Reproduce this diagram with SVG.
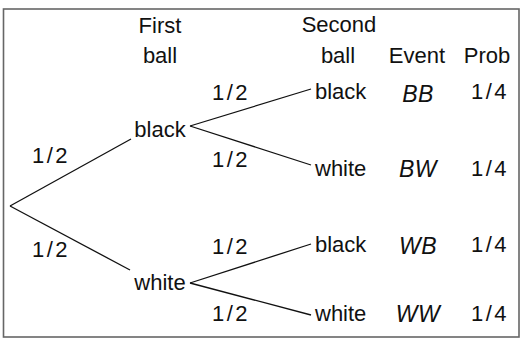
<svg xmlns="http://www.w3.org/2000/svg" width="523" height="349" viewBox="0 0 523 349">
  <style>
    text { font-family: "Liberation Sans", Arial, sans-serif; font-size: 22px; fill: #111; }
    .c { text-anchor: middle; }
    .it { font-style: italic; font-size: 23px; letter-spacing: 0.5px; }
    .fr { letter-spacing: 2.5px; }
    .edge { stroke: #111; stroke-width: 1.3; fill: none; }
  </style>
  <rect x="0" y="0" width="523" height="349" fill="#fff"/>
  <rect x="3.5" y="9" width="515.5" height="328" fill="none" stroke="#666" stroke-width="1.6"/>

  <!-- column headings -->
  <g id="headings">
    <text class="c" x="160" y="33">First</text>
    <text class="c" x="160" y="63">ball</text>
    <text class="c" x="339" y="32">Second</text>
    <text class="c" x="338" y="63">ball</text>
    <text class="c" x="417" y="63">Event</text>
    <text class="c" x="487" y="63">Prob</text>
  </g>

  <!-- branches -->
  <g id="connectors">
    <line class="edge" x1="10" y1="206" x2="131" y2="139"/>
    <line class="edge" x1="10" y1="206" x2="130" y2="270"/>
    <line class="edge" x1="190" y1="126" x2="311" y2="89"/>
    <line class="edge" x1="190" y1="126" x2="311" y2="165"/>
    <line class="edge" x1="190" y1="283" x2="311" y2="244"/>
    <line class="edge" x1="190" y1="283" x2="311" y2="315"/>
    <text class="c fr" x="51" y="163">1/2</text>
    <text class="c fr" x="51" y="257">1/2</text>
    <text class="c fr" x="231" y="100">1/2</text>
    <text class="c fr" x="231" y="167">1/2</text>
    <text class="c fr" x="231" y="254">1/2</text>
    <text class="c fr" x="231" y="321">1/2</text>
  </g>

  <!-- first draw -->
  <g id="first-black"><text class="c" x="160" y="137">black</text></g>
  <g id="first-white"><text class="c" x="160" y="290">white</text></g>

  <!-- second draw outcomes -->
  <g id="bb">
    <text x="315" y="99">black</text>
    <text class="c it" x="418" y="102">BB</text>
    <text class="c fr" x="490" y="99">1/4</text>
  </g>
  <g id="bw">
    <text x="315" y="176">white</text>
    <text class="c it" x="418" y="177">BW</text>
    <text class="c fr" x="490" y="176">1/4</text>
  </g>
  <g id="wb">
    <text x="315" y="252">black</text>
    <text class="c it" x="418" y="254">WB</text>
    <text class="c fr" x="490" y="252">1/4</text>
  </g>
  <g id="ww">
    <text x="315" y="321">white</text>
    <text class="c it" x="418" y="322">WW</text>
    <text class="c fr" x="490" y="321">1/4</text>
  </g>
</svg>
